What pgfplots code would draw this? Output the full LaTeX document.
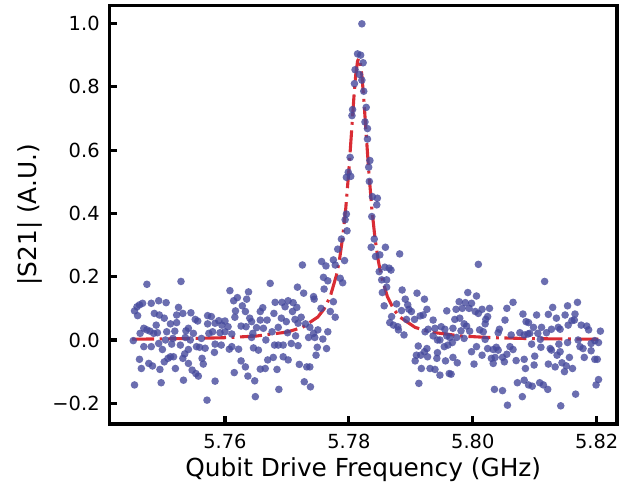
\documentclass[border=0pt]{standalone}
\usepackage{fontspec}
\setmainfont{DejaVu Sans}
\usepackage{pgfplots}
\usepackage{pgfplotstable}
\pgfplotsset{compat=1.18}

\definecolor{dotblue}{RGB}{70,74,156}
\definecolor{fitred}{RGB}{217,44,52}

% measured |S21|
\pgfplotstableread{
f s
5.7474 0.176
5.7529 0.185
5.7454 0.092
5.7458 0.105
5.7462 0.111
5.7467 0.116
5.7481 0.116
5.7493 0.124
5.7505 0.118
5.7459 0.077
5.7486 0.084
5.7494 0.079
5.7502 0.069
5.7525 0.103
5.7532 0.084
5.7522 0.079
5.7545 0.086
5.7552 0.065
5.7556 0.060
5.7572 0.077
5.7572 0.051
5.7469 0.037
5.7474 0.032
5.7479 0.028
5.7489 0.047
5.7463 0.021
5.7485 0.021
5.7491 0.023
5.7506 0.026
5.7512 0.051
5.7522 0.055
5.7519 0.028
5.7537 0.029
5.7541 0.037
5.7549 0.021
5.7562 0.005
5.7574 0.021
5.7452 -0.002
5.7469 -0.021
5.7481 -0.021
5.7493 -0.011
5.7499 -0.030
5.7514 -0.013
5.7528 -0.016
5.7541 -0.030
5.7554 -0.021
5.7559 -0.023
5.7568 -0.026
5.7504 0.000
5.7516 0.005
5.7536 0.008
5.7544 0.000
5.7462 -0.061
5.7477 -0.074
5.7483 -0.082
5.7465 -0.090
5.7502 -0.069
5.7508 -0.058
5.7512 -0.053
5.7517 -0.053
5.7532 -0.058
5.7535 -0.044
5.7541 -0.074
5.7563 -0.058
5.7565 -0.076
5.7520 -0.090
5.7495 -0.093
5.7547 -0.095
5.7553 -0.106
5.7557 -0.114
5.7454 -0.142
5.7497 -0.135
5.7533 -0.127
5.7571 -0.190
5.7673 0.179
5.7608 0.156
5.7638 0.152
5.7614 0.124
5.7620 0.134
5.7635 0.129
5.7628 0.108
5.7633 0.090
5.7617 0.092
5.7661 0.102
5.7657 0.090
5.7681 0.119
5.7692 0.119
5.7697 0.105
5.7702 0.124
5.7679 0.084
5.7578 0.074
5.7590 0.061
5.7600 0.060
5.7616 0.072
5.7640 0.069
5.7643 0.058
5.7657 0.063
5.7668 0.063
5.7691 0.069
5.7699 0.058
5.7584 0.053
5.7595 0.047
5.7605 0.042
5.7626 0.044
5.7634 0.042
5.7651 0.039
5.7662 0.037
5.7580 0.026
5.7592 0.023
5.7600 0.026
5.7611 0.019
5.7645 0.021
5.7676 0.026
5.7686 0.040
5.7643 0.008
5.7666 0.000
5.7701 0.023
5.7584 -0.013
5.7594 -0.016
5.7607 -0.029
5.7622 -0.029
5.7611 -0.021
5.7646 -0.025
5.7654 -0.032
5.7680 -0.016
5.7686 -0.016
5.7694 -0.016
5.7583 -0.039
5.7694 -0.053
5.7678 -0.055
5.7669 -0.063
5.7702 -0.063
5.7626 -0.066
5.7633 -0.085
5.7657 -0.092
5.7665 -0.090
5.7684 -0.093
5.7615 -0.103
5.7637 -0.114
5.7648 -0.129
5.7584 -0.130
5.7687 -0.156
5.7649 -0.179
5.7797 0.345
5.7788 0.319
5.7782 0.287
5.7725 0.237
5.7756 0.248
5.7763 0.234
5.7775 0.253
5.7778 0.237
5.7793 0.251
5.7759 0.198
5.7766 0.187
5.7786 0.195
5.7790 0.181
5.7717 0.167
5.7727 0.148
5.7760 0.161
5.7743 0.137
5.7744 0.129
5.7775 0.121
5.7710 0.118
5.7716 0.103
5.7709 0.090
5.7755 0.100
5.7770 0.090
5.7778 0.072
5.7723 0.072
5.7713 0.065
5.7718 0.053
5.7730 0.051
5.7737 0.040
5.7750 0.032
5.7766 0.026
5.7743 0.021
5.7735 0.008
5.7745 0.008
5.7758 0.003
5.7714 0.013
5.7707 -0.011
5.7718 -0.018
5.7749 -0.023
5.7764 -0.027
5.7747 -0.048
5.7720 -0.077
5.7732 -0.085
5.7737 -0.085
5.7728 -0.132
5.7738 -0.148
5.7821 0.999
5.7814 0.904
5.7819 0.900
5.7823 0.876
5.7810 0.854
5.7817 0.839
5.7821 0.821
5.7809 0.810
5.7824 0.786
5.7828 0.735
5.7806 0.728
5.7805 0.709
5.7826 0.689
5.7830 0.668
5.7830 0.635
5.7802 0.577
5.7834 0.567
5.7832 0.546
5.7799 0.530
5.7796 0.514
5.7803 0.517
5.7833 0.501
5.7838 0.453
5.7846 0.448
5.7845 0.427
5.7796 0.398
5.7794 0.380
5.7837 0.390
5.7841 0.319
5.7836 0.293
5.7859 0.293
5.7850 0.269
5.7843 0.264
5.7882 0.272
5.7858 0.230
5.7865 0.227
5.7868 0.221
5.7849 0.216
5.7853 0.190
5.7861 0.190
5.7861 0.167
5.7854 0.150
5.7886 0.158
5.7910 0.148
5.7922 0.129
5.7891 0.129
5.7877 0.114
5.7857 0.108
5.7895 0.111
5.7897 0.097
5.7901 0.090
5.7926 0.097
5.7958 0.092
5.7885 0.093
5.7906 0.065
5.7915 0.076
5.7920 0.079
5.7936 0.063
5.7869 0.074
5.7866 0.055
5.7872 0.047
5.7879 0.042
5.7880 0.032
5.7889 0.016
5.7893 0.065
5.7928 0.034
5.7939 0.037
5.7949 0.042
5.7955 0.034
5.7923 0.026
5.7936 0.013
5.7947 0.000
5.7943 0.000
5.7958 0.013
5.7960 -0.016
5.7954 -0.021
5.7912 -0.019
5.7926 -0.027
5.7922 -0.037
5.7943 -0.040
5.7909 -0.048
5.7916 -0.048
5.7927 -0.053
5.7942 -0.058
5.7907 -0.066
5.7956 -0.066
5.7917 -0.090
5.7931 -0.090
5.7939 -0.093
5.7947 -0.111
5.7962 -0.106
5.7913 -0.137
5.8009 0.239
5.7992 0.150
5.8006 0.139
5.7978 0.121
5.7988 0.118
5.7998 0.116
5.8065 0.119
5.7973 0.097
5.7983 0.100
5.7994 0.100
5.8004 0.090
5.8015 0.097
5.8027 0.100
5.8055 0.100
5.8081 0.082
5.8009 0.084
5.8024 0.074
5.7971 0.065
5.7979 0.069
5.8021 0.065
5.8052 0.063
5.8086 0.058
5.7986 0.051
5.7990 0.044
5.8020 0.051
5.7968 0.037
5.7981 0.029
5.7995 0.028
5.8011 0.032
5.8017 0.026
5.8043 0.034
5.8041 0.023
5.8062 0.016
5.8076 0.023
5.8083 0.016
5.8092 0.021
5.7963 0.008
5.7974 0.008
5.8020 0.002
5.7967 -0.008
5.7986 0.005
5.7998 -0.037
5.8006 -0.021
5.8024 -0.027
5.8033 -0.030
5.8038 -0.023
5.8041 -0.032
5.8060 -0.021
5.8065 -0.030
5.8015 -0.048
5.8030 -0.058
5.8036 -0.055
5.8048 -0.055
5.8055 -0.045
5.8070 -0.065
5.8083 -0.061
5.7968 -0.055
5.7975 -0.072
5.8002 -0.076
5.8033 -0.074
5.8051 -0.069
5.8085 -0.090
5.7965 -0.108
5.8072 -0.135
5.8083 -0.127
5.8090 -0.142
5.8035 -0.156
5.8048 -0.160
5.8080 -0.179
5.8056 -0.206
5.8116 0.185
5.8169 0.119
5.8153 0.108
5.8129 0.103
5.8165 0.082
5.8149 0.079
5.8122 0.081
5.8103 0.079
5.8135 0.069
5.8160 0.061
5.8164 0.063
5.8090 0.055
5.8098 0.040
5.8111 0.040
5.8127 0.034
5.8138 0.040
5.8141 0.034
5.8154 0.047
5.8175 0.047
5.8184 0.044
5.8187 0.032
5.8206 0.028
5.8089 0.019
5.8105 0.021
5.8119 0.023
5.8109 0.002
5.8095 -0.013
5.8110 -0.023
5.8125 -0.027
5.8127 -0.032
5.8139 -0.013
5.8141 -0.037
5.8153 -0.008
5.8170 0.000
5.8173 -0.021
5.8178 -0.027
5.8191 -0.011
5.8197 -0.002
5.8203 -0.008
5.8191 -0.034
5.8136 -0.048
5.8100 -0.051
5.8156 -0.055
5.8180 -0.055
5.8197 -0.061
5.8201 -0.061
5.8099 -0.079
5.8122 -0.076
5.8133 -0.085
5.8144 -0.072
5.8151 -0.082
5.8161 -0.090
5.8148 -0.100
5.8203 -0.125
5.8199 -0.142
5.8096 -0.146
5.8108 -0.135
5.8114 -0.142
5.8121 -0.156
5.8166 -0.171
5.8142 -0.208
}\measured

% Lorentzian fit, sampled
\pgfplotstableread{
f s
5.7450 0.0026
5.7500 0.0035
5.7550 0.0049
5.7600 0.0073
5.7650 0.0124
5.7700 0.0250
5.7725 0.0398
5.7750 0.0728
5.7760 0.0980
5.7770 0.1379
5.7780 0.2051
5.7785 0.2560
5.7790 0.3246
5.7795 0.4166
5.7800 0.5363
5.7804 0.6491
5.7808 0.7640
5.7811 0.8361
5.7814 0.8809
5.7816 0.8900
5.7818 0.8809
5.7821 0.8361
5.7824 0.7640
5.7828 0.6491
5.7832 0.5363
5.7837 0.4166
5.7842 0.3246
5.7847 0.2560
5.7852 0.2051
5.7862 0.1379
5.7872 0.0980
5.7882 0.0728
5.7907 0.0398
5.7932 0.0250
5.7982 0.0124
5.8032 0.0073
5.8082 0.0049
5.8132 0.0035
5.8205 0.0023
}\fit

\begin{document}
\begin{tikzpicture}
\begin{axis}[
    name=ax,
    scale only axis,
    width=253.75bp, height=209.25bp,
    xmin=5.74136, xmax=5.82328,
    ymin=-0.2654, ymax=1.0569,
    axis line style={line width=1.6bp, line cap=rect},
    tick align=inside,
    tick pos=left,
    major tick length=3.9bp,
    every tick/.style={black, line width=1.6bp},
    xtick={5.76,5.78,5.80,5.82},
    xticklabels={5.76,5.78,5.80,5.82},
    ytick={-0.2,0,0.2,0.4,0.6,0.8,1.0},
    yticklabels={−0.2,0.0,0.2,0.4,0.6,0.8,1.0},
    ticklabel style={font=\fontsize{9.7bp}{11bp}\selectfont, inner sep=0pt},
    xticklabel shift=5bp,
    yticklabel shift=4.75bp,
    xlabel={Qubit Drive Frequency (GHz)},
    ylabel={|S21| (A.U.)},
    xlabel style={font=\fontsize{12.4bp}{14bp}\selectfont, inner sep=0pt,
        at={(axis description cs:0.5,-0.0793)}, anchor=north},
    ylabel style={font=\fontsize{12.4bp}{14bp}\selectfont, inner sep=0pt,
        at={(axis description cs:-0.1576,0.5)}, anchor=center},
]
% plot marks always fill and stroke, so the stroke is made invisible
\addplot[only marks, mark=*, mark size=1.9bp, color=dotblue,
    mark options={fill=dotblue, draw=dotblue, fill opacity=0.8, draw opacity=0}]
    table[x=f, y=s] {\measured};
\addplot[fitred, line width=1.55bp,
    dash pattern=on 11bp off 2.8bp on 1.4bp off 2.8bp] table[x=f, y=s] {\fit};
\end{axis}
\pgfresetboundingbox
\path[use as bounding box] ([shift={(-54.75bp,-35.5bp)}]ax.south west)
    rectangle ([shift={(5bp,2.75bp)}]ax.north east);
\end{tikzpicture}
\end{document}
